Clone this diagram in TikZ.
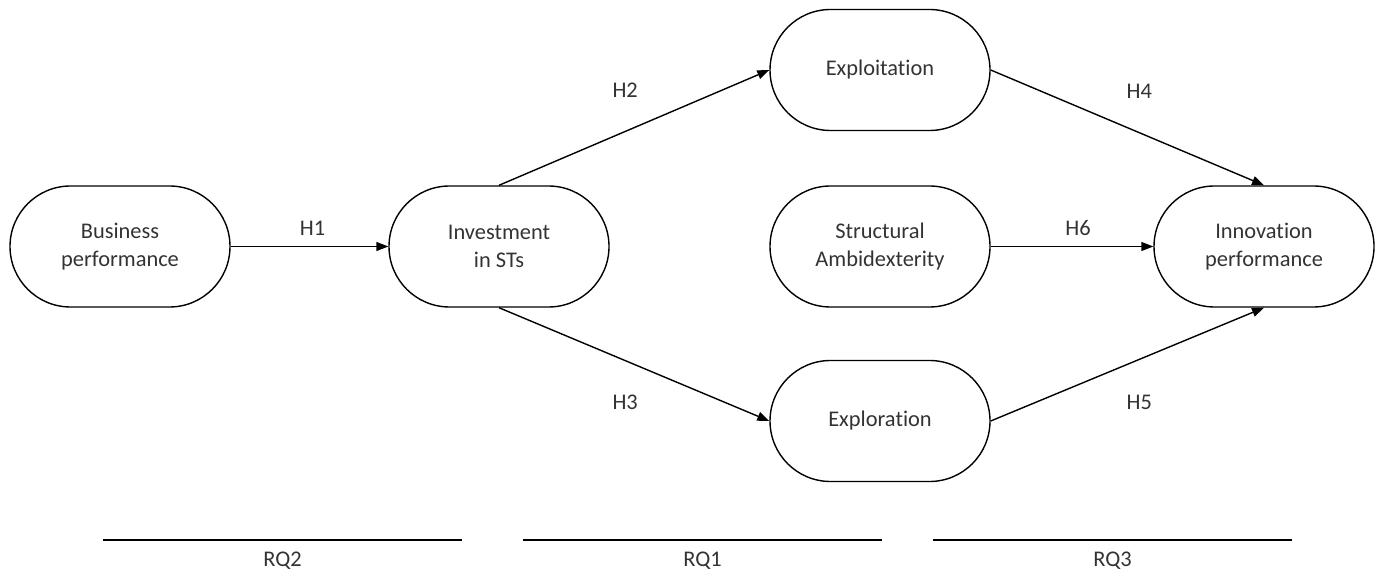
\documentclass[tikz,border=0pt]{standalone}
\usepackage{fontspec}
\setmainfont{Carlito}[Ligatures=NoCommon]
\usetikzlibrary{
  	positioning,
  	arrows.meta,
  	shapes.misc
  }
\tikzstyle{pill}=[rounded rectangle, draw, line width=0.7pt, minimum width=110pt, minimum height=60.5pt, align=center, inner sep=0pt]
\tikzstyle{hyp}=[-{Triangle[length=6pt,width=4.5pt]}, line width=0.7pt]
\tikzstyle{lab}=[text=black!80]

\begin{document}
\begin{tikzpicture}[x=0.5pt, y=-0.5pt, font=\fontsize{11.2}{14}\selectfont, text=black!80]
    \useasboundingbox (0,0) rectangle (1375,571);
    \node [pill] (bp) at (120,246.5) {Business\\performance};
    \node [pill] (st) at (499,246.5) {Investment\\in STs};
    \node [pill] (ept) at (880,70) {Exploitation};
    \node [pill] (amb) at (880,246.5) {Structural\\Ambidexterity};
    \node [pill] (epr) at (880,421) {Exploration};
    \node [pill] (ip) at (1264,246.5) {Innovation\\performance};
    \draw [hyp] (bp.east) -- (st.west) node [lab, midway, yshift=9pt, xshift=1.5pt] {H1};
    \draw [hyp] (st.north) -- (ept.west) node [lab, midway, yshift=18.5pt, xshift=-4.5pt] {H2};
    \draw [hyp] (st.south) -- (epr.west) node [lab, midway, yshift=-19pt, xshift=-4.5pt] {H3};
    \draw [hyp] (ept.east) -- (ip.north) node [lab, midway, yshift=18pt, xshift=6pt] {H4};
    \draw [hyp] (epr.east) -- (ip.south) node [lab, midway, yshift=-19pt, xshift=6pt] {H5};
    \draw [hyp] (amb.east) -- (ip.west) node [lab, midway, yshift=9pt, xshift=3pt] {H6};
    % research questions
    \coordinate (rq2a) at (103,540); \coordinate (rq2b) at (462,540);
    \coordinate (rq1a) at (523,540); \coordinate (rq1b) at (882,540);
    \coordinate (rq3a) at (933,540); \coordinate (rq3b) at (1292,540);
    \draw [line width=0.7pt] (rq2a) -- (rq2b) node [lab, midway, yshift=-10.5pt, inner sep=1pt] {RQ2};
    \draw [line width=0.7pt] (rq1a) -- (rq1b) node [lab, midway, yshift=-10.5pt, inner sep=1pt] {RQ1};
    \draw [line width=0.7pt] (rq3a) -- (rq3b) node [lab, midway, yshift=-10.5pt, inner sep=1pt] {RQ3};
    \end{tikzpicture}
\end{document}
